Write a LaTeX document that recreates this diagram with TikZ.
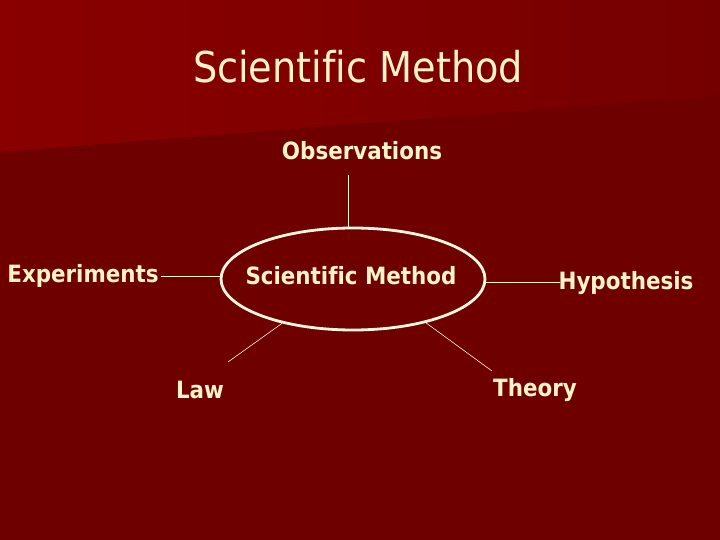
\documentclass[tikz,border=0pt]{standalone}
\usepackage{fontspec}
\usetikzlibrary{shapes.geometric}
\setmainfont[Ligatures=NoCommon]{DejaVu Sans Condensed}
\definecolor{slidebg}{HTML}{6E0000}
\definecolor{slidetop}{HTML}{8A0000}
\definecolor{slidetopr}{HTML}{750000}
\definecolor{cream}{HTML}{FFF4C8}

\begin{document}
\begin{tikzpicture}[
	x=1pt, y=-1pt,
	label/.style={text=cream, font=\bfseries\fontsize{23.8}{27}\selectfont, inner sep=0pt},
	link/.style={draw=cream!70!white, line width=0.6pt}]
\fill[slidebg] (0,0) rectangle (720,540);
\shade[left color=slidetop, right color=slidetopr]
	(0,0) -- (720,0) -- (720,95) -- (0,152) -- cycle;
\useasboundingbox (0,0) rectangle (720,540);

\node[text=cream, font=\fontsize{42.5}{48}\selectfont] (title) at (358,67) {Scientific Method};

\node[ellipse, draw=cream!60!white, line width=2.8pt,
	minimum width=264pt, minimum height=102pt] (sm) at (353,279) {};
\node[label] at (351,276) {Scientific Method};

\node[label] (obs) at (362,151) {Observations};
\node[label] (exp) at (83,276) {Experiments};
\node[label] (hyp) at (626,283) {Hypothesis};
\node[label] (law) at (200,390) {Law};
\node[label] (the) at (535,390) {Theory};

\coordinate (obsend) at (348,175);
\coordinate (expend) at (161,276);
\coordinate (hypend) at (560,282);
\coordinate (lawend) at (228,362);
\coordinate (theend) at (492,371);

\draw[link] (obsend) -- (sm.north -| obsend);
\draw[link] (expend) -- (sm.west |- expend);
\draw[link] (hypend) -- (sm.east |- hypend);
\draw[link] (lawend) -- (sm.212);
\draw[link] (theend) -- (sm.329);
\end{tikzpicture}
\end{document}
